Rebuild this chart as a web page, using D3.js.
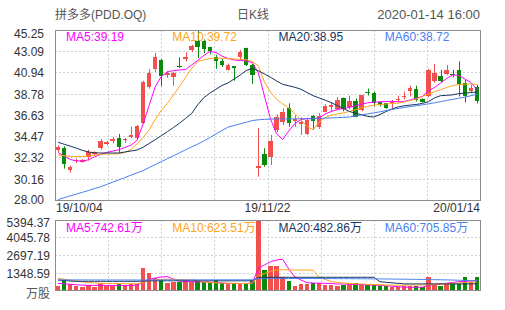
<!DOCTYPE html>
<html>
<head>
<meta charset="utf-8">
<script src="https://cdn.jsdelivr.net/npm/d3@7"></script>
<style>
  body { margin: 0; background: #fff; }
  svg text { font-family: "Liberation Sans", Arial, "Noto Sans CJK SC", sans-serif; }
</style>
</head>
<body>
<div id="chart"></div>
<script>
// trading days shown, 19/10/04 .. 20/01/14
const dates = ("19/10/04 19/10/07 19/10/08 19/10/09 19/10/10 19/10/11 19/10/14 19/10/15 19/10/16 19/10/17 " +
  "19/10/18 19/10/21 19/10/22 19/10/23 19/10/24 19/10/25 19/10/28 19/10/29 19/10/30 19/10/31 " +
  "19/11/01 19/11/04 19/11/05 19/11/06 19/11/07 19/11/08 19/11/11 19/11/12 19/11/13 19/11/14 " +
  "19/11/15 19/11/18 19/11/19 19/11/20 19/11/21 19/11/22 19/11/25 19/11/26 19/11/27 19/11/29 " +
  "19/12/02 19/12/03 19/12/04 19/12/05 19/12/06 19/12/09 19/12/10 19/12/11 19/12/12 19/12/13 " +
  "19/12/16 19/12/17 19/12/18 19/12/19 19/12/20 19/12/23 19/12/24 19/12/26 19/12/27 19/12/30 " +
  "19/12/31 20/01/02 20/01/03 20/01/06 20/01/07 20/01/08 20/01/09 20/01/10 20/01/13 20/01/14").split(" ");

const open = [33.07,33.28,31.08,31.92,31.89,32.36,32.67,33.28,33.71,33.96,
  34.29,34.06,34.36,34.26,35.81,39.43,41.32,42.17,40.70,40.50,
  41.60,42.34,43.25,44.10,44.16,43.49,42.48,42.14,41.22,41.57,
  42.50,43.40,41.74,31.28,32.67,32.33,35.10,35.95,37.30,36.02,
  35.70,34.70,36.52,35.44,36.96,37.41,37.20,38.32,37.41,38.05,
  37.13,39.00,38.89,37.98,37.81,37.85,38.15,38.48,39.03,39.26,
  38.25,38.52,40.04,40.61,40.81,40.75,41.22,39.87,39.09,39.43];
const high = [33.55,33.45,31.50,32.20,32.15,33.10,32.95,34.20,34.00,34.40,
  34.70,34.30,35.44,35.60,40.10,41.30,42.92,42.30,41.10,41.00,
  42.48,43.00,43.75,45.18,44.30,43.55,42.74,42.30,41.85,41.60,
  43.20,43.45,41.80,35.30,33.25,34.60,36.70,37.30,37.81,36.60,
  36.40,36.30,36.62,36.80,37.70,37.95,38.45,38.40,38.60,38.30,
  38.65,39.30,38.99,38.00,37.85,38.15,38.60,39.00,39.60,39.60,
  38.30,41.30,41.80,41.20,41.70,41.20,42.05,40.20,39.70,39.70];
const low = [32.87,31.18,30.80,31.75,31.80,32.00,32.50,33.10,33.55,33.75,
  32.80,33.80,34.26,34.10,35.70,39.30,41.00,39.54,40.40,39.60,
  41.39,42.07,43.00,42.40,42.90,42.80,41.32,41.50,41.15,40.10,
  42.20,41.60,39.77,30.36,31.38,31.55,34.90,35.60,35.44,35.40,
  34.60,34.60,35.10,35.20,36.90,36.95,37.10,37.00,37.20,36.40,
  37.00,38.60,37.50,37.50,37.25,37.30,37.90,38.20,38.50,38.00,
  37.90,38.40,39.90,39.90,40.70,40.45,38.50,37.90,38.85,37.80];
const close = [33.35,31.68,31.32,32.06,32.03,32.87,32.84,34.02,33.86,34.19,
  33.41,34.19,34.60,35.51,40.02,40.89,42.48,40.55,40.86,40.90,
  41.55,42.50,43.60,43.49,43.35,43.15,42.07,41.67,41.74,41.40,
  43.00,41.70,40.71,31.48,31.55,33.99,36.45,36.96,35.78,36.22,
  35.90,36.12,36.02,36.56,37.54,37.64,38.15,37.20,38.05,36.45,
  38.65,38.95,37.81,37.64,37.30,37.95,38.28,38.58,39.36,38.18,
  37.94,41.22,40.89,40.10,41.22,40.70,39.80,38.52,39.36,38.08];

const ma5 = [32.82,32.47,32.11,31.98,31.93,32.08,32.38,32.62,32.82,32.97,
  33.10,33.33,33.56,34.04,35.71,37.59,39.47,40.53,40.99,41.14,
  41.19,41.24,41.70,42.16,42.66,43.07,42.97,42.61,42.36,42.21,
  42.16,42.10,41.95,40.89,38.55,36.22,34.70,34.14,35.00,35.76,
  36.15,36.27,36.27,36.32,36.73,36.98,37.18,37.28,37.41,37.56,
  37.72,37.86,37.94,37.96,37.99,38.01,37.96,37.99,38.15,38.33,
  38.50,39.06,39.42,39.87,40.33,40.70,40.63,40.28,39.92,39.19];
const ma10 = [32.57,32.49,32.43,32.41,32.42,32.47,32.55,32.64,32.67,32.67,
  32.69,32.82,33.12,33.68,34.34,35.10,36.17,37.08,37.79,38.65,
  39.52,40.43,41.34,42.05,42.23,42.35,42.40,42.39,42.34,42.31,
  42.28,42.23,42.05,41.60,39.97,38.96,38.20,37.76,37.34,36.78,
  36.12,35.48,35.13,35.91,36.36,36.61,36.73,36.83,36.99,37.16,
  37.36,37.49,37.62,37.69,37.74,37.80,37.83,37.94,38.10,38.25,
  38.51,38.73,38.98,39.19,39.41,39.61,39.71,39.75,39.77,39.72];
const ma20 = [33.86,33.66,33.47,33.26,33.04,32.88,32.78,32.77,32.77,32.77,
  32.77,32.87,32.97,33.07,33.35,33.73,34.12,34.52,34.93,35.35,
  35.79,36.28,36.77,37.66,38.38,38.84,39.23,39.62,39.88,40.28,
  40.68,41.14,41.34,41.11,40.79,40.45,40.08,39.74,39.59,39.44,
  39.24,38.91,38.59,38.36,38.13,37.88,37.58,37.28,36.98,36.81,
  36.65,36.48,36.42,36.67,36.97,37.24,37.44,37.56,37.63,37.69,
  37.80,37.98,38.36,38.58,38.62,38.67,38.79,38.85,38.91,38.95];
const ma60 = [28.05,28.23,28.42,28.60,28.78,28.96,29.16,29.34,29.57,29.81,
  30.04,30.27,30.52,30.75,30.98,31.29,31.59,31.89,32.19,32.49,
  32.79,33.09,33.38,33.67,33.99,34.33,34.69,35.04,35.40,35.56,
  35.73,35.89,36.06,36.14,36.18,36.21,36.22,36.22,36.23,36.23,
  36.24,36.24,36.25,36.28,36.30,36.33,36.36,36.39,36.42,36.52,
  36.63,36.74,36.84,36.95,37.07,37.18,37.29,37.39,37.48,37.57,
  37.66,37.75,37.86,37.98,38.10,38.21,38.32,38.44,38.58,38.72];

// volume, 万股
const volume = [320,771,462,308,208,385,254,516,308,362,
  440,362,462,462,1670,1335,900,770,560,640,
  640,770,640,720,640,640,770,515,440,515,
  440,440,690,5394.37,1541,1850,1850,1027,694,308,
  462,462,514,565,411,411,334,385,462,565,
  462,360,411,308,308,205,205,280,308,308,
  205,976,360,308,437,462,462,976,590,1027];
const vma5 = [516,478,439,401,370,362,347,362,347,347,
  354,347,354,362,601,809,925,1002,1033,848,
  694,655,632,632,616,601,578,539,516,501,
  501,501,539,1695,1927,2181,2312,2366,1618,1002,
  771,563,539,524,516,501,462,462,447,424,
  424,385,385,362,324,293,254,231,208,208,
  208,385,424,462,516,578,640,655,694,742.61];
const vma10 = [902,825,747,694,632,578,539,516,501,501,
  493,485,485,485,578,732,794,825,832,825,
  809,786,771,732,616,578,555,539,516,516,
  501,501,516,1079,1271,1426,1541,1564,1557,1541,
  1541,1541,1518,979,809,655,578,539,501,478,
  462,439,424,408,385,385,370,370,385,385,
  385,424,439,462,485,516,539,578,616,623.51];
const vma20 = [771,732,694,670,670,670,670,670,670,670,
  670,670,670,670,694,709,709,709,709,709,
  709,709,709,709,709,709,709,709,709,709,
  709,709,725,979,979,979,979,979,979,979,
  979,979,979,979,979,979,979,979,979,979,
  979,979,979,640,593,555,516,470,470,470,
  470,470,470,470,470,470,470,470,470,482.86];
const vma60 = [780,779,778,777,776,775,774,773,772,771,
  770,770,769,769,770,772,774,776,778,779,
  780,781,782,783,783,784,784,785,785,785,
  786,786,786,870,875,880,882,884,884,884,
  883,882,881,880,878,876,874,872,870,867,
  864,861,858,855,850,844,838,832,826,820,
  812,804,796,788,778,768,752,738,722,705.85];

const priceTicks = ["45.25","43.09","40.94","38.78","36.63","34.47","32.32","30.16","28.00"];
const volTicks = ["5394.37","4045.78","2697.19","1348.59"];
const xLabels = ["19/10/04","19/11/22","20/01/14"];
const maNames = ["MA5","MA10","MA20","MA60"];
const maColors = ["#ff00ff","#ffa31a","#14345f","#4a7ff0"];
const priceMA = [ma5, ma10, ma20, ma60];
const volMA = [vma5, vma10, vma20, vma60];

const W = 505, H = 310;
const left = 55, right = 480;
const pTop = 30, pBottom = 200;
const vTop = 220, vBottom = 290;
const upColor = "#f24f4f", downColor = "#0a8a0a";

const svg = d3.select("#chart").append("svg")
  .attr("width", W).attr("height", H)
  .attr("viewBox", [0, 0, W, H]);

const x = d3.scaleBand().domain(dates).range([left, right]).paddingInner(0.28).paddingOuter(0.14);
const bw = x.bandwidth();
const cx = d => x(d) + bw / 2;

const y = d3.scaleLinear().domain([+priceTicks[8], +priceTicks[0]]).range([pBottom, pTop]);
const yv = d3.scaleLinear().domain([0, +volTicks[0]]).range([vBottom, vTop]);

// header
const header = svg.append("g").attr("fill", "#555").attr("font-size", 12);
header.append("text").attr("x", left).attr("y", 19).text("拼多多(PDD.OQ)");
header.append("text").attr("x", 253).attr("y", 19).attr("text-anchor", "middle").text("日K线");
header.append("text").attr("x", right).attr("y", 19).attr("text-anchor", "end")
  .attr("font-size", 13).text("2020-01-14 16:00");

// grid for both panels
const colX = d3.range(1, 8).map(k => left + k * (right - left) / 8);
function grid(top, bottom, rows) {
  const g = svg.append("g").attr("stroke", "#d0d0d0").attr("stroke-dasharray", "2,2")
    .attr("shape-rendering", "crispEdges");
  g.selectAll("line.v").data(colX).join("line").attr("class", "v")
    .attr("x1", d => Math.round(d) + 0.5).attr("x2", d => Math.round(d) + 0.5)
    .attr("y1", top).attr("y2", bottom);
  g.selectAll("line.h").data(rows).join("line").attr("class", "h")
    .attr("x1", left).attr("x2", right)
    .attr("y1", d => Math.round(d) + 0.5).attr("y2", d => Math.round(d) + 0.5);
}
grid(pTop, pBottom, priceTicks.slice(1, -1).map(t => y(+t)));
grid(vTop, vBottom, volTicks.slice(1).map(t => yv(+t)));

// axis labels
const axisText = svg.append("g").attr("fill", "#333").attr("font-size", 12);
axisText.selectAll("text.p").data(priceTicks).join("text").attr("class", "p")
  .attr("x", 44).attr("text-anchor", "end")
  .attr("y", (d, i) => Math.min(Math.max(y(+d), pTop + 2.5), pBottom - 1) + 5)
  .text(d => d);
axisText.selectAll("text.v").data(volTicks).join("text").attr("class", "v")
  .attr("x", 50).attr("text-anchor", "end")
  .attr("y", d => Math.max(yv(+d), vTop + 2) + 5)
  .text(d => d);
axisText.append("text").attr("x", 50).attr("y", vBottom + 8).attr("text-anchor", "end")
  .attr("fill", "#555").text("万股");
axisText.selectAll("text.x").data(xLabels).join("text").attr("class", "x")
  .attr("x", (d, i) => [left + 1, (left + right) / 2, right][i])
  .attr("text-anchor", (d, i) => ["start", "middle", "end"][i])
  .attr("y", 212)
  .text(d => d);

// volume bars
svg.append("g").attr("shape-rendering", "crispEdges")
  .selectAll("rect").data(dates).join("rect")
  .attr("x", d => x(d))
  .attr("width", bw)
  .attr("y", (d, i) => yv(volume[i]))
  .attr("height", (d, i) => vBottom - yv(volume[i]))
  .attr("fill", (d, i) => close[i] >= open[i] ? upColor : downColor);

// candles
const candle = svg.append("g").selectAll("g").data(dates).join("g")
  .attr("fill", (d, i) => close[i] >= open[i] ? upColor : downColor)
  .attr("stroke", (d, i) => close[i] >= open[i] ? upColor : downColor);
candle.append("line")
  .attr("x1", d => Math.round(cx(d)) + 0.5).attr("x2", d => Math.round(cx(d)) + 0.5)
  .attr("y1", (d, i) => y(high[i])).attr("y2", (d, i) => y(low[i]));
candle.append("rect").attr("stroke", "none").attr("shape-rendering", "crispEdges")
  .attr("x", d => x(d))
  .attr("width", bw)
  .attr("y", (d, i) => y(Math.max(open[i], close[i])))
  .attr("height", (d, i) => Math.max(1, Math.abs(y(open[i]) - y(close[i]))));

// moving averages
const pLine = d3.line().x((d, i) => cx(dates[i])).y(d => y(d));
const vLine = d3.line().x((d, i) => cx(dates[i])).y(d => yv(d));
svg.append("g").attr("fill", "none").attr("stroke-width", 1)
  .selectAll("path").data(priceMA).join("path")
  .attr("stroke", (d, i) => maColors[i]).attr("d", pLine);
svg.append("g").attr("fill", "none").attr("stroke-width", 1)
  .selectAll("path").data(volMA).join("path")
  .attr("stroke", (d, i) => maColors[i]).attr("d", vLine);

// panel borders
svg.append("g").attr("fill", "none").attr("stroke", "#8c8c8c").attr("stroke-width", 1)
  .attr("shape-rendering", "crispEdges")
  .selectAll("rect").data([[pTop, pBottom], [vTop, vBottom]]).join("rect")
  .attr("x", left + 0.5).attr("y", d => d[0] + 0.5)
  .attr("width", right - left).attr("height", d => d[1] - d[0]);

// legends
const legendX = d3.range(4).map(k => left + 11 + k * (right - left) / 4);
const priceLast = priceMA.map(a => a[a.length - 1].toFixed(2));
const volLast = volMA.map(a => a[a.length - 1].toFixed(2));
svg.append("g").attr("font-size", 12)
  .selectAll("text").data(maNames).join("text")
  .attr("x", (d, i) => legendX[i]).attr("y", 41)
  .attr("fill", (d, i) => maColors[i])
  .text((d, i) => d + ":" + priceLast[i]);
svg.append("g").attr("font-size", 12)
  .selectAll("text").data(maNames).join("text")
  .attr("x", (d, i) => legendX[i]).attr("y", 232)
  .attr("fill", (d, i) => maColors[i])
  .text((d, i) => d + ":" + volLast[i] + "万");
</script>
</body>
</html>
